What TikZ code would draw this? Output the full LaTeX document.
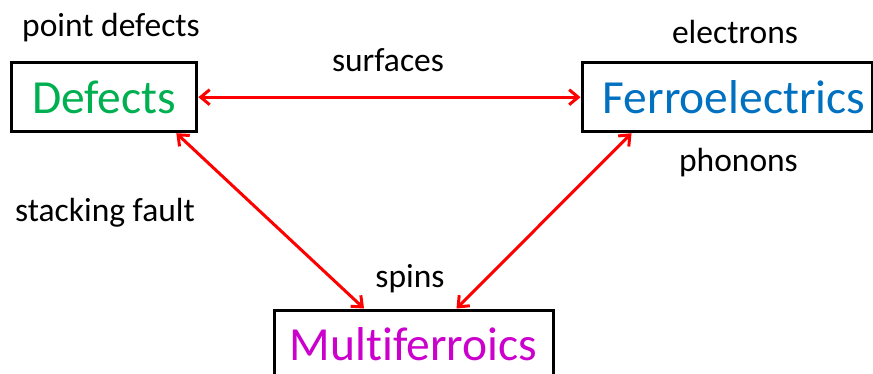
\documentclass[tikz,border=0pt]{standalone}
\usepackage{fontspec}
\setmainfont[Ligatures=NoCommon]{Carlito}
\usetikzlibrary{arrows.meta}
\definecolor{dgreen}{RGB}{0,176,80}
\definecolor{dblue}{RGB}{0,112,192}
\definecolor{dmag}{RGB}{204,0,204}
\tikzset{
 box/.style={draw=black,line width=3pt,minimum height=69pt,inner sep=0pt,
   font=\fontsize{47.5}{50}\selectfont,text depth=0pt},
 lbl/.style={anchor=base,inner sep=0pt,font=\fontsize{33.5}{36}\selectfont},
 link/.style={red,line width=3pt,
   {Straight Barb[length=9pt,width=15pt]}-{Straight Barb[length=9pt,width=15pt]}}
}
\begin{document}
\begin{tikzpicture}[x=1pt,y=-1pt]
\useasboundingbox (0,0) rectangle (873,373);
\node[box,minimum width=185.7pt,text=dgreen] (def) at (104,97.2) {Defects};
\node[box,minimum width=290pt,text=dblue] (ferro) at (727,97.2) {\hspace*{14pt}Ferroelectrics};
\node[box,minimum width=279pt,text=dmag] (multi) at (413.5,344.5) {Multiferroics};
\draw[link] (def.east) -- (ferro.west);
\draw[link] ([xshift=-22pt]def.south east) -- ([xshift=-49.5pt]multi.north);
\draw[link] ([xshift=51pt]ferro.south west) -- ([xshift=43pt]multi.north);
\node[lbl] (pd) at (111,36) {point defects};
\node[lbl] (sf) at (388,71.7) {surfaces};
\node[lbl] (el) at (735,43) {electrons};
\node[lbl] (ph) at (738.5,171.7) {phonons};
\node[lbl] (st) at (105,221.7) {stacking fault};
\node[lbl] (sp) at (410,287) {spins};
\end{tikzpicture}
\end{document}
